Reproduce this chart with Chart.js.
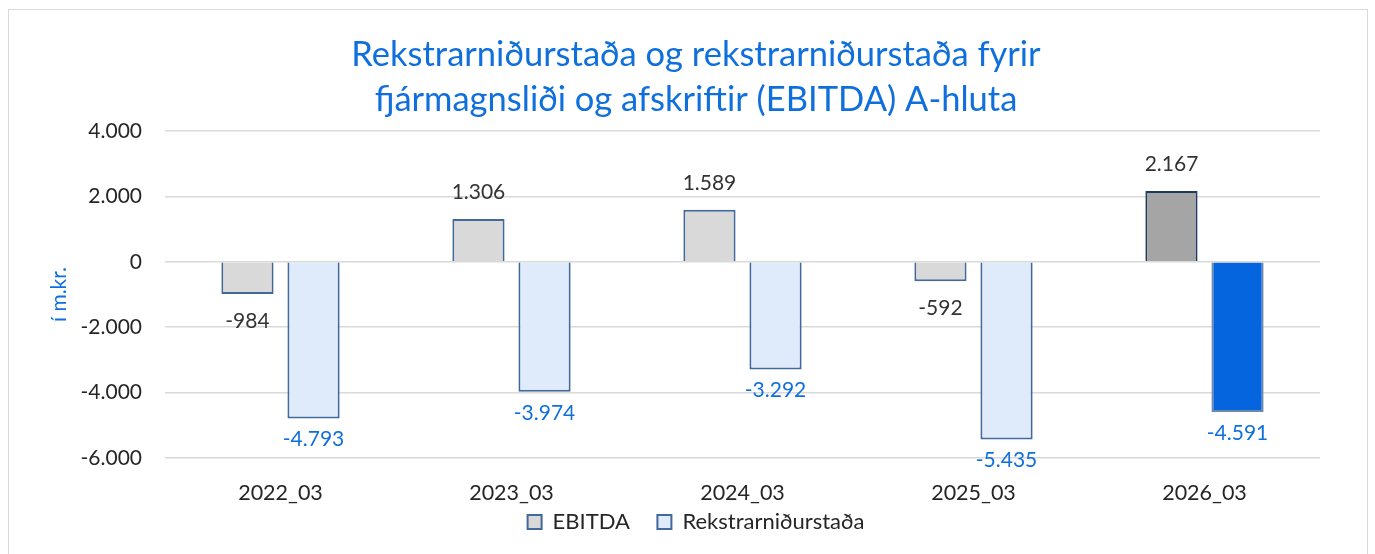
<!DOCTYPE html>
<html>
<head>
<meta charset="utf-8">
<script src="https://cdn.jsdelivr.net/npm/chart.js@4.4.1/dist/chart.umd.min.js"></script>
<style>
  html, body { margin: 0; padding: 0; background: #fff; }
  #frame { position: absolute; left: 8px; top: 9px; width: 1360px; height: 550px; border: 1px solid #d9d9d9; box-sizing: border-box; }
  #wrap { position: absolute; left: 0; top: 0; width: 1375px; height: 554px; }
</style>
</head>
<body>
<div id="frame"></div>
<div id="wrap"><canvas id="canvas"></canvas></div>
<script>
// data
var categories = ['2022_03', '2023_03', '2024_03', '2025_03', '2026_03'];
var ebitda = [-984, 1306, 1589, -592, 2167];
var rekstur = [-4793, -3974, -3292, -5435, -4591];
var seriesNames = ['EBITDA', 'Rekstrarniðurstaða'];
var chartTitle = ['Rekstrarniðurstaða og rekstrarniðurstaða fyrir', 'fjármagnsliði og afskriftir (EBITDA) A-hluta'];
var yTitle = 'í m.kr.';

var FONT = 'Lato';
var BLUE = '#0f6fdc';

function fmt(v) {
  var s = Math.abs(v).toString();
  s = s.replace(/\B(?=(\d{3})+(?!\d))/g, '.');
  return (v < 0 ? '-' : '') + s;
}

// labels under / above bar ends
var barLabels = {
  id: 'barLabels',
  afterDatasetsDraw: function(chart) {
    var ctx = chart.ctx;
    ctx.save();
    ctx.font = '21px ' + FONT;
    ctx.textAlign = 'center';
    ctx.textBaseline = 'middle';
    chart.data.datasets.forEach(function(ds, i) {
      var meta = chart.getDatasetMeta(i);
      var off = i == 0 ? 27 : 21;
      ctx.fillStyle = i == 0 ? '#333333' : BLUE;
      meta.data.forEach(function(bar, j) {
        var v = ds.data[j];
        var y = v >= 0 ? bar.y - off : bar.y + off;
        ctx.fillText(fmt(v), bar.x, y);
      });
    });
    ctx.restore();
  }
};

var ctx = document.getElementById('canvas').getContext('2d');
var myChart = new Chart(ctx, {
  type: 'bar',
  data: {
    labels: categories,
    datasets: [{
      label: seriesNames[0],
      data: ebitda,
      backgroundColor: ['#d9d9d9', '#d9d9d9', '#d9d9d9', '#d9d9d9', '#a5a5a5'],
      borderColor: ['#41699b', '#41699b', '#41699b', '#41699b', '#1f3a5f'],
      borderWidth: 2,
      categoryPercentage: 0.572,
      barPercentage: 0.79
    }, {
      label: seriesNames[1],
      data: rekstur,
      backgroundColor: ['#dfebfa', '#dfebfa', '#dfebfa', '#dfebfa', '#0565de'],
      borderColor: ['#41699b', '#41699b', '#41699b', '#41699b', '#6d88a8'],
      borderWidth: 2,
      categoryPercentage: 0.572,
      barPercentage: 0.79
    }]
  },
  options: {
    responsive: true,
    maintainAspectRatio: false,
    animation: false,
    layout: { padding: { left: 72, right: 55, top: 0, bottom: 11 } },
    plugins: {
      title: {
        display: true,
        text: chartTitle,
        color: BLUE,
        font: { family: FONT, size: 34.5, weight: 'normal', lineHeight: 1.304 },
        padding: { top: 32, bottom: 9 }
      },
      legend: {
        position: 'bottom',
        labels: {
          color: '#262626',
          font: { family: FONT, size: 22 },
          boxWidth: 14,
          boxHeight: 14,
          padding: 5,
          generateLabels: function(chart) {
            return chart.data.datasets.map(function(ds, i) {
              return {
                // trailing spaces widen the gap between the two items
                text: i == 0 ? ds.label + '    ' : ds.label,
                fillStyle: ds.backgroundColor[0],
                strokeStyle: ds.borderColor[0],
                lineWidth: 2,
                datasetIndex: i,
                fontColor: '#262626'
              };
            });
          }
        }
      },
      tooltip: { enabled: false }
    },
    scales: {
      x: {
        grid: { display: false },
        border: { display: false },
        ticks: { color: '#262626', font: { family: FONT, size: 21.5 }, padding: 14, maxRotation: 0 },
        afterFit: function(scale) { scale.height = 48; }
      },
      y: {
        min: -6000,
        max: 4000,
        grid: { color: '#d9d9d9', lineWidth: 1.5, drawTicks: false },
        border: { display: false },
        ticks: {
          stepSize: 2000,
          color: '#262626',
          font: { family: FONT, size: 21 },
          padding: 23,
          callback: function(v) { return fmt(v); }
        },
        title: {
          display: true,
          text: yTitle,
          color: BLUE,
          font: { family: FONT, size: 21 },
          padding: { top: -25.6, bottom: 0 }
        },
        afterFit: function(scale) { scale.width = 93; }
      }
    }
  },
  plugins: [barLabels]
});
</script>
</body>
</html>
